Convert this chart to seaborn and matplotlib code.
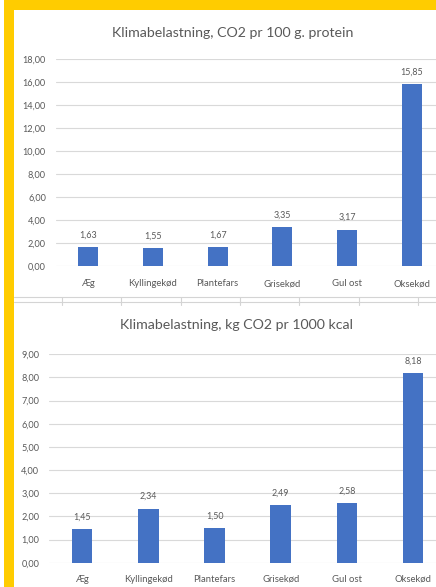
import matplotlib
matplotlib.use("Agg")
import matplotlib.pyplot as plt
import seaborn as sns
import pandas as pd
from matplotlib.patches import Rectangle
from matplotlib.lines import Line2D

categories = ["Æg", "Kyllingekød", "Plantefars", "Grisekød", "Gul ost", "Oksekød"]
protein_values = [1.63, 1.55, 1.67, 3.35, 3.17, 15.85]
kcal_values = [1.45, 2.34, 1.50, 2.49, 2.58, 8.18]
protein_ticks = [0, 2, 4, 6, 8, 10, 12, 14, 16, 18]
kcal_ticks = [0, 1, 2, 3, 4, 5, 6, 7, 8, 9]
title_top = "Klimabelastning, CO2 pr 100 g. protein"
title_bottom = "Klimabelastning, kg CO2 pr 1000 kcal"

sns.set_theme(style="white")
plt.rcParams["font.family"] = ["Lato", "DejaVu Sans"]

W, H = 436, 587
fig = plt.figure(figsize=(W / 100, H / 100), dpi=100)
fig.patch.set_facecolor("white")

BLUE = "#4472C4"
GRID = "#D9D9D9"
TXT = "#595959"
YEL = "#FFCC00"


def rect(x0, yt, x1, yb):
    return [x0 / W, 1 - yb / H, (x1 - x0) / W, (yb - yt) / H]


def fmt(v):
    return f"{v:.2f}".replace(".", ",")


def panel(ax, values, ticks, slot_px, x0, title, title_x, title_y, xpad):
    df = pd.DataFrame({"cat": categories, "val": values})
    sns.barplot(data=df, x="cat", y="val", color=BLUE, saturation=1,
                width=0.31, ax=ax, edgecolor="none")
    ax.set_xlim(-0.5, -0.5 + (W - x0) / slot_px)
    ax.set_ylim(ticks[0], ticks[-1])
    ax.set_yticks(ticks)
    ax.set_yticklabels([fmt(t) for t in ticks])
    ax.set_xlabel("")
    ax.set_ylabel("")
    for s in ax.spines.values():
        s.set_visible(False)
    ax.yaxis.grid(True, color=GRID, lw=0.8)
    ax.set_axisbelow(True)
    ax.tick_params(axis="y", length=0, pad=7.0, labelsize=6.6, labelcolor=TXT)
    ax.tick_params(axis="x", length=0, pad=xpad, labelsize=6.8, labelcolor=TXT)
    ax.set_facecolor("none")
    for i, v in enumerate(values):
        ax.annotate(fmt(v), (i, v), xytext=(0, 8.6), textcoords="offset points",
                    ha="center", va="center", fontsize=6.4, color=TXT)
    fig.text(title_x / W, 1 - title_y / H, title, ha="center",
             va="center", fontsize=10.2, color=TXT)


ax1 = fig.add_axes(rect(55.6, 59, W, 266))
panel(ax1, protein_values, protein_ticks, 64.8, 55.6, title_top, 233, 33, 9.5)

ax2 = fig.add_axes(rect(49, 354.3, W, 562.7))
panel(ax2, kcal_values, kcal_ticks, 66.2, 49, title_bottom, 236, 325, 8.5)

# yellow frame
fig.patches.append(Rectangle((4 / W, 0), 10 / W, 1, transform=fig.transFigure,
                             facecolor=YEL, edgecolor="none", zorder=5))
fig.patches.append(Rectangle((4 / W, 1 - 9.5 / H), 1, 9.5 / H, transform=fig.transFigure,
                             facecolor=YEL, edgecolor="none", zorder=5))

# spreadsheet separator lines
for yy in (297, 302):
    fig.lines.append(Line2D([14 / W, 1], [1 - yy / H, 1 - yy / H], transform=fig.transFigure,
                            color="#D4D4D4", lw=0.8))
for xx in (62, 121, 181, 240, 299, 359, 418):
    fig.lines.append(Line2D([xx / W, xx / W], [1 - 297 / H, 1 - 305 / H], transform=fig.transFigure,
                            color="#D4D4D4", lw=0.8))

fig.savefig("out.png", dpi=100, facecolor="white")
